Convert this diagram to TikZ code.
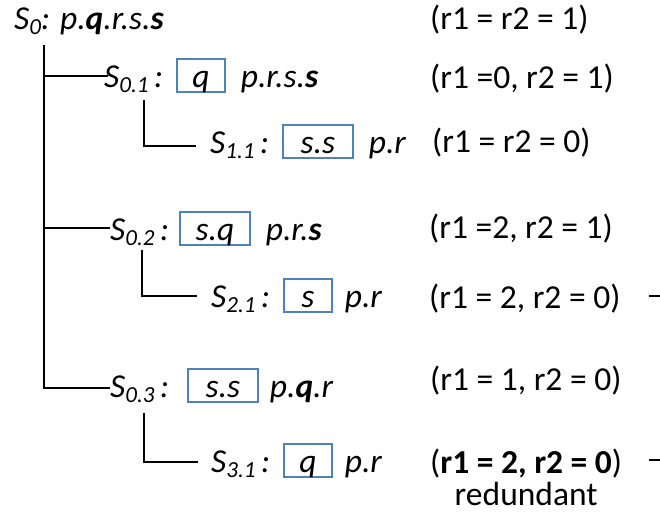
\documentclass[tikz,border=0pt]{standalone}
\usepackage{fontspec}
\setmainfont{Carlito}
\usetikzlibrary{positioning}
\definecolor{boxblue}{RGB}{79,129,189}
\newcommand{\treefont}{\fontsize{33.5}{40}\selectfont}
\newcommand{\idx}[1]{\raisebox{-5pt}{\fontsize{23}{26}\selectfont #1}}
\tikzset{
    slabel/.style={inner sep=0pt, anchor=base west, font=\treefont\itshape},
    keybox/.style={draw=boxblue, line width=1.4pt, inner xsep=0pt, inner ysep=2pt,
        text height=26pt, text depth=3pt, minimum width=48pt, font=\treefont\itshape},
    restlbl/.style={inner sep=0pt, font=\treefont\itshape},
    condlbl/.style={inner sep=0pt, anchor=base west, font=\treefont},
    treeline/.style={line width=1.9pt}
}

\begin{document}
\begin{tikzpicture}[x=1pt, y=-1pt, node distance=13pt]
\useasboundingbox (0,0) rectangle (660,512);
% states
\node[slabel] (s0) at (14,29) {S\idx{0}: p.\textbf{q}.r.s.\textbf{s}};
\node[slabel] (s01) at (104,87) {S\idx{0.1}\,:};
\node[keybox, base right=of s01] (b01) {q};
\node[restlbl, base right=15pt of b01] (r01) {p.r.s.\textbf{s}};
\node[slabel] (s11) at (210,153) {S\idx{1.1}\,:};
\node[keybox, minimum width=70pt, base right=of s11] (b11) {s.s};
\node[restlbl, base right=15pt of b11] (r11) {p.r};
\node[slabel] (s02) at (110,240) {S\idx{0.2}\,:};
\node[keybox, minimum width=70pt, base right=10pt of s02] (b02) {s.q};
\node[restlbl, base right=15pt of b02] (r02) {p.r.\textbf{s}};
\node[slabel] (s21) at (211,307) {S\idx{2.1}\,:};
\node[keybox, base right=of s21] (b21) {s};
\node[restlbl, base right=12pt of b21] (r21) {p.r};
\node[slabel] (s03) at (110,397) {S\idx{0.3}\,:};
\node[keybox, minimum width=70pt, base right=18pt of s03] (b03) {s.s};
\node[restlbl, base right=11pt of b03] (r03) {p.\textbf{q}.r};
\node[slabel] (s31) at (211,472) {S\idx{3.1}\,:};
\node[keybox, base right=of s31] (b31) {q};
\node[restlbl, base right=12pt of b31] (r31) {p.r};
% register values
\node[condlbl] (c0) at (430,29) {(r1 = r2 = 1)};
\node[condlbl] (c01) at (430,88) {(r1 =0, r2 = 1)};
\node[condlbl] (c11) at (432,152) {(r1 = r2 = 0)};
\node[condlbl] (c02) at (429,238) {(r1 =2, r2 = 1)};
\node[condlbl] (c21) at (429,308) {(r1 = 2, r2 = 0)};
\node[condlbl] (c03) at (430,390) {(r1 = 1, r2 = 0)};
\node[condlbl] (c31) at (430,473) {(\textbf{r1 = 2, r2 = 0})};
\node[condlbl, anchor=base] (red) at ([yshift=-32pt]c31.base) {redundant};
% tree
\coordinate (trunk) at ([xshift=30pt,yshift=-16pt]s0.base west);
\draw[treeline] (trunk) |- ([xshift=4pt,yshift=11pt]s01.base west);
\draw[treeline] (trunk) |- ([yshift=12pt]s02.base west);
\draw[treeline] (trunk) |- ([yshift=9pt]s03.base west);
\draw[treeline] ([xshift=40pt,yshift=-13pt]s01.base west) |- ([xshift=-14pt,yshift=7pt]s11.base west);
\draw[treeline] ([xshift=32pt,yshift=-10pt]s02.base west) |- ([xshift=-14pt,yshift=11pt]s21.base west);
\draw[treeline] ([xshift=34pt,yshift=-16pt]s03.base west) |- ([xshift=-13pt,yshift=10pt]s31.base west);
% cut-off marks at the right edge
\coordinate (e21) at (662,296);
\coordinate (e31) at (662,460);
\draw[treeline] ([xshift=-13pt]e21) -- (e21);
\draw[treeline] ([xshift=-13pt]e31) -- (e31);
\end{tikzpicture}
\end{document}
